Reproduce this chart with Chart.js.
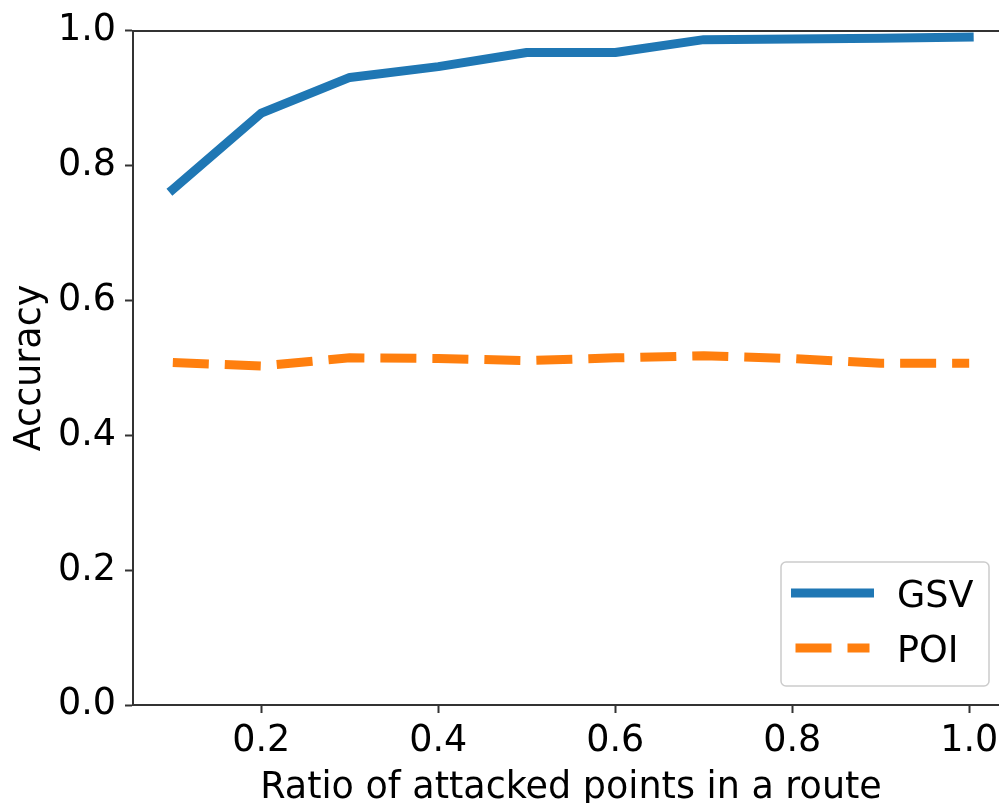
<!DOCTYPE html>
<html>
<head>
<meta charset="utf-8">
<script src="https://cdn.jsdelivr.net/npm/chart.js@4/dist/chart.umd.min.js"></script>
<style>
  html, body { margin: 0; padding: 0; background: #fff; overflow: hidden; }
  #wrap { width: 1020px; height: 820px; }
</style>
</head>
<body>
<div id="wrap"><canvas id="chart" width="1020" height="820"></canvas></div>
<script>
// valores
const ratios = [0.1, 0.2, 0.3, 0.4, 0.5, 0.6, 0.7, 0.8, 0.9, 1.0];
const gsvAcc = [0.765, 0.878, 0.931, 0.947, 0.968, 0.968, 0.987, 0.988, 0.989, 0.991];
const poiAcc = [0.508, 0.503, 0.515, 0.514, 0.511, 0.515, 0.518, 0.514, 0.507, 0.507];
const xTicks = [0.2, 0.4, 0.6, 0.8, 1.0];
const yTicks = [0.0, 0.2, 0.4, 0.6, 0.8, 1.0];

const FONT = "'DejaVu Sans', sans-serif";
const SPINE = '#333';

// moldura de cima e legenda estilo matplotlib
const framePlugin = {
    id: 'frame',
    afterDraw(chart) {
        const { ctx, chartArea: a } = chart;
        ctx.save();
        ctx.strokeStyle = SPINE;
        ctx.lineWidth = 2;
        ctx.beginPath();
        ctx.moveTo(a.left, a.top);
        ctx.lineTo(a.right, a.top);
        ctx.lineTo(a.right, a.bottom);
        ctx.stroke();

        // caixa da legenda
        const bw = 208, bh = 124;
        const bx = a.right - 20 - bw, by = a.bottom - 19 - bh;
        ctx.fillStyle = 'rgba(255,255,255,0.8)';
        ctx.strokeStyle = '#cccccc';
        ctx.lineWidth = 1.5;
        ctx.beginPath();
        ctx.roundRect(bx, by, bw, bh, 5);
        ctx.fill();
        ctx.stroke();

        chart.data.datasets.forEach((ds, i) => {
            const cy = by + 31 + i * 55;
            ctx.save();
            ctx.strokeStyle = ds.borderColor;
            ctx.lineWidth = ds.borderWidth;
            ctx.lineCap = ds.borderCapStyle;
            ctx.setLineDash(ds.borderDash || []);
            ctx.beginPath();
            ctx.moveTo(bx + 14.5, cy);
            ctx.lineTo(bx + 88.5, cy);
            ctx.stroke();
            ctx.restore();
            ctx.fillStyle = '#000';
            ctx.font = `36.5px ${FONT}`;
            ctx.textBaseline = 'alphabetic';
            ctx.fillText(ds.label, bx + 116, cy + 14);
        });
        ctx.restore();
    }
};

new Chart(document.getElementById('chart'), {
    type: 'line',
    data: {
        datasets: [
            {
                label: 'GSV',
                data: ratios.map((x, i) => ({ x, y: gsvAcc[i] })),
                borderColor: '#1f77b4',
                borderWidth: 9,
                borderCapStyle: 'square',
                borderJoinStyle: 'round',
                pointRadius: 0,
                tension: 0
            },
            {
                label: 'POI',
                data: ratios.map((x, i) => ({ x, y: poiAcc[i] })),
                borderColor: '#ff7f0e',
                borderWidth: 9,
                borderDash: [36, 16],
                borderCapStyle: 'butt',
                borderJoinStyle: 'round',
                pointRadius: 0,
                tension: 0
            }
        ]
    },
    options: {
        responsive: false,
        animation: false,
        layout: { padding: { top: 27, right: 11, left: 0, bottom: 0 } },
        plugins: { legend: { display: false }, tooltip: { enabled: false } },
        scales: {
            x: {
                type: 'linear',
                min: 0.055,
                max: 1.045,
                afterBuildTicks: s => { s.ticks = xTicks.map(v => ({ value: v })); },
                afterFit: s => { s.height = 115; },
                ticks: {
                    color: '#000',
                    font: { family: FONT, size: 36.5 },
                    padding: 7,
                    maxRotation: 0,
                    autoSkip: false,
                    callback: v => v.toFixed(1)
                },
                grid: { drawOnChartArea: false, drawTicks: true, tickLength: 8, tickWidth: 2, tickColor: SPINE },
                border: { display: true, color: SPINE, width: 2 },
                title: {
                    display: true,
                    text: 'Ratio of attacked points in a route',
                    color: '#000',
                    font: { family: FONT, size: 36.5 },
                    padding: { top: 0, bottom: 10 }
                }
            },
            y: {
                min: 0,
                max: 1,
                afterBuildTicks: s => { s.ticks = yTicks.map(v => ({ value: v })); },
                afterFit: s => { s.width = 133; },
                ticks: {
                    color: '#000',
                    font: { family: FONT, size: 36.5 },
                    padding: 9,
                    autoSkip: false,
                    callback: v => v.toFixed(1)
                },
                grid: { drawOnChartArea: false, drawTicks: true, tickLength: 8, tickWidth: 2, tickColor: SPINE },
                border: { display: true, color: SPINE, width: 2 },
                title: {
                    display: true,
                    text: 'Accuracy',
                    color: '#000',
                    font: { family: FONT, size: 36.5 },
                    padding: { top: 9, bottom: 0 }
                }
            }
        }
    },
    plugins: [framePlugin]
});
</script>
</body>
</html>
